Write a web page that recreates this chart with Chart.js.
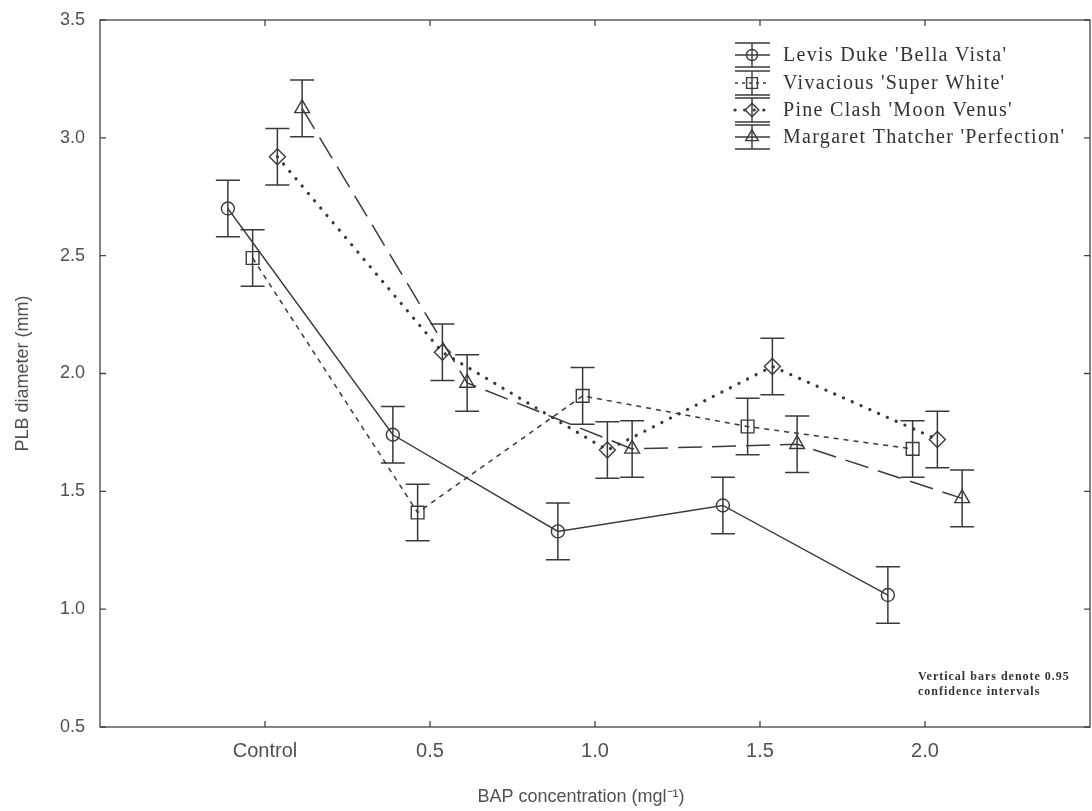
<!DOCTYPE html>
<html>
<head>
<meta charset="utf-8">
<script src="https://cdn.jsdelivr.net/npm/chart.js@4/dist/chart.umd.min.js"></script>
<style>
  html, body { margin: 0; padding: 0; background: #ffffff; overflow: hidden; }
  #wrap { width: 1092px; height: 811px; position: relative; }
  canvas { display: block; }
</style>
</head>
<body>
<div id="wrap"><canvas id="c" width="1092" height="811"></canvas></div>
<script>
// ---- data ----
const xLabels = ['Control', '0.5', '1.0', '1.5', '2.0'];
const seriesNames = ["Levis Duke 'Bella Vista'", "Vivacious 'Super White'", "Pine Clash 'Moon Venus'", "Margaret Thatcher 'Perfection'"];
const levisDuke = [2.70, 1.74, 1.33, 1.44, 1.06];
const vivacious = [2.49, 1.41, 1.905, 1.775, 1.68];
const pineClash = [2.92, 2.09, 1.675, 2.03, 1.72];
const margaret  = [3.125, 1.96, 1.68, 1.70, 1.47];
const levisDukeCI = [0.12, 0.12, 0.12, 0.12, 0.12];
const vivaciousCI = [0.12, 0.12, 0.12, 0.12, 0.12];
const pineClashCI = [0.12, 0.12, 0.12, 0.12, 0.12];
const margaretCI  = [0.12, 0.12, 0.12, 0.12, 0.12];
const yTickValues = [0.5, 1.0, 1.5, 2.0, 2.5, 3.0, 3.5];
const xTitle = 'BAP concentration (mgl\u207B\u00B9)';
const yTitle = 'PLB diameter (mm)';
const noteLines = ['Vertical bars denote 0.95', 'confidence intervals'];

// ---- styling ----
const INK = '#3a3a3a';
const TEXT = '#505050';
const values = [levisDuke, vivacious, pineClash, margaret];
const cis = [levisDukeCI, vivaciousCI, pineClashCI, margaretCI];
const styles = [
  { pointStyle: 'circle',   radius: 6.5, dash: [],         width: 1.4, cap: 'butt' },
  { pointStyle: 'rect',     radius: 9,   dash: [5, 5],     width: 1.5, cap: 'butt' },
  { pointStyle: 'rectRot',  radius: 8,   dash: [0.1, 9.5], width: 3.2, cap: 'round' },
  { pointStyle: 'triangle', radius: 8.5, dash: [24, 10],   width: 1.5, cap: 'butt' }
];
const groupOffset = s => (s - 1.5) * 0.15;

const datasets = values.map((vals, s) => ({
  label: seriesNames[s],
  data: vals.map((v, i) => ({ x: i + groupOffset(s), y: v })),
  ci: cis[s],
  borderColor: INK,
  borderWidth: styles[s].width,
  borderDash: styles[s].dash,
  borderCapStyle: styles[s].cap,
  tension: 0,
  fill: false,
  pointStyle: styles[s].pointStyle,
  pointRadius: styles[s].radius,
  pointHoverRadius: styles[s].radius,
  pointBorderWidth: 1.4,
  pointBorderColor: INK,
  pointBackgroundColor: 'rgba(255,255,255,0)',
  showLine: true
}));

function drawMarker(ctx, style, x, y) {
  ctx.save();
  ctx.setLineDash([]);
  ctx.strokeStyle = INK;
  ctx.lineWidth = 1.4;
  ctx.fillStyle = 'rgba(255,255,255,0)';
  if (Chart.helpers && Chart.helpers.drawPoint) {
    Chart.helpers.drawPoint(ctx, { pointStyle: style.pointStyle, radius: style.radius, rotation: 0, borderWidth: 1.4 }, x, y);
  } else {
    ctx.beginPath(); ctx.arc(x, y, style.radius, 0, Math.PI * 2); ctx.stroke();
  }
  ctx.restore();
}

const framePlugin = {
  id: 'frame',
  afterDatasetsDraw(chart) {
    const ctx = chart.ctx;
    const a = chart.chartArea;
    const xs = chart.scales.x, ys = chart.scales.y;
    ctx.save();
    // error bars
    ctx.strokeStyle = INK;
    ctx.lineWidth = 1.5;
    ctx.setLineDash([]);
    chart.data.datasets.forEach((ds, s) => {
      ds.data.forEach((p, i) => {
        const px = xs.getPixelForValue(p.x);
        const top = ys.getPixelForValue(p.y + ds.ci[i]);
        const bot = ys.getPixelForValue(p.y - ds.ci[i]);
        ctx.beginPath();
        ctx.moveTo(px, top); ctx.lineTo(px, bot);
        ctx.moveTo(px - 12, top); ctx.lineTo(px + 12, top);
        ctx.moveTo(px - 12, bot); ctx.lineTo(px + 12, bot);
        ctx.stroke();
      });
    });
    // frame
    ctx.lineWidth = 1.3;
    ctx.strokeStyle = '#444';
    ctx.strokeRect(a.left, a.top, a.right - a.left, a.bottom - a.top);
    // inward ticks
    ctx.beginPath();
    xLabels.forEach((l, i) => {
      const px = xs.getPixelForValue(i);
      ctx.moveTo(px, a.bottom); ctx.lineTo(px, a.bottom - 6);
      ctx.moveTo(px, a.top); ctx.lineTo(px, a.top + 6);
    });
    yTickValues.forEach(v => {
      const py = ys.getPixelForValue(v);
      ctx.moveTo(a.left, py); ctx.lineTo(a.left + 6, py);
      ctx.moveTo(a.right, py); ctx.lineTo(a.right - 6, py);
    });
    ctx.stroke();

    // x axis title
    ctx.font = '18px "Liberation Sans", Arial, sans-serif';
    ctx.fillStyle = TEXT;
    ctx.textAlign = 'center';
    ctx.textBaseline = 'middle';
    ctx.fillText(xTitle, 581, 797);
    ctx.textAlign = 'left';

    // legend
    const rowY = [55, 83, 110, 137];
    ctx.font = '20px "Liberation Serif", "DejaVu Serif", serif';
    if ('letterSpacing' in ctx) ctx.letterSpacing = '1.3px';
    ctx.fillStyle = '#333';
    ctx.textBaseline = 'middle';
    chart.data.datasets.forEach((ds, s) => {
      const cy = rowY[s];
      const x0 = 735, x1 = 770, xm = 752;
      ctx.save();
      ctx.strokeStyle = INK;
      ctx.lineWidth = 1.4;
      ctx.setLineDash([]);
      ctx.beginPath();
      ctx.moveTo(x0, cy - 12); ctx.lineTo(x1, cy - 12);
      ctx.moveTo(x0, cy + 12); ctx.lineTo(x1, cy + 12);
      ctx.moveTo(xm, cy - 12); ctx.lineTo(xm, cy + 12);
      ctx.stroke();
      ctx.lineWidth = styles[s].width;
      ctx.lineCap = styles[s].cap;
      ctx.setLineDash(s === 1 ? [3, 4] : (s === 3 ? [] : styles[s].dash));
      ctx.beginPath();
      ctx.moveTo(x0, cy); ctx.lineTo(x1, cy);
      ctx.stroke();
      ctx.restore();
      drawMarker(ctx, { pointStyle: styles[s].pointStyle, radius: styles[s].radius * 0.85 }, xm, cy);
      ctx.fillText(ds.label, 783, cy + 1);
    });

    // note
    ctx.font = 'bold 12px "Liberation Serif", "DejaVu Serif", serif';
    if ('letterSpacing' in ctx) ctx.letterSpacing = '1px';
    ctx.fillStyle = '#333';
    ctx.textBaseline = 'middle';
    noteLines.forEach((t, i) => ctx.fillText(t, 918, 677 + i * 15));
    ctx.restore();
  }
};

new Chart(document.getElementById('c'), {
  type: 'scatter',
  data: { datasets },
  plugins: [framePlugin],
  options: {
    responsive: false,
    animation: false,
    devicePixelRatio: 1,
    layout: { autoPadding: false, padding: { top: 20, right: 2, left: 0, bottom: 0 } },
    plugins: { legend: { display: false }, tooltip: { enabled: false } },
    scales: {
      x: {
        type: 'linear',
        min: -1, max: 5,
        afterBuildTicks: sc => { sc.ticks = xLabels.map((l, i) => ({ value: i })); },
        afterFit: sc => { sc.height = 84; sc.paddingLeft = 0; sc.paddingRight = 0; sc.paddingTop = 0; sc.paddingBottom = 0; },
        grid: { display: false, drawTicks: false },
        border: { display: false },
        ticks: {
          padding: 12,
          color: TEXT,
          font: { family: '"Liberation Sans", Arial, sans-serif', size: 20 },
          callback: v => xLabels[Math.round(v)] ?? ''
        },
        title: { display: false }
      },
      y: {
        type: 'linear',
        min: 0.5, max: 3.5,
        afterBuildTicks: sc => { sc.ticks = yTickValues.map(v => ({ value: v })); },
        afterFit: sc => { sc.width = 100; sc.paddingTop = 0; sc.paddingBottom = 0; sc.paddingLeft = 0; sc.paddingRight = 0; },
        grid: { display: false, drawTicks: false },
        border: { display: false },
        ticks: {
          padding: 15,
          color: TEXT,
          font: { family: '"Liberation Sans", Arial, sans-serif', size: 18 },
          callback: v => Number(v).toFixed(1)
        },
        title: {
          display: true, text: yTitle, color: TEXT,
          font: { family: '"Liberation Sans", Arial, sans-serif', size: 18 },
          padding: { top: 12, bottom: 0 }
        }
      }
    }
  }
});
</script>
</body>
</html>
